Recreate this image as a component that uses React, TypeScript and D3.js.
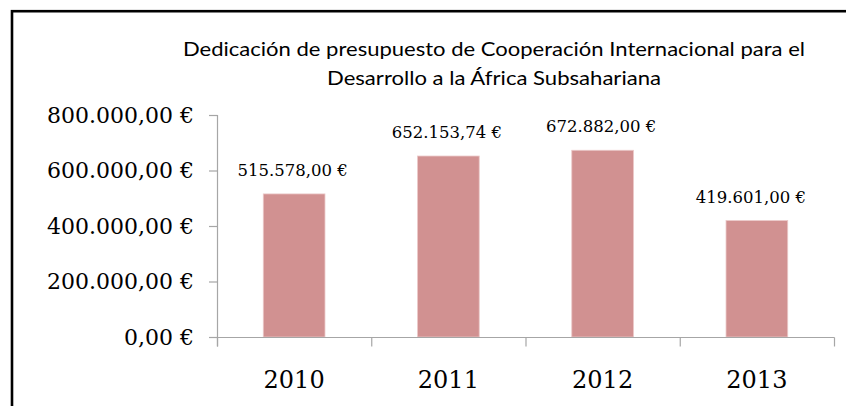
import React from "react";
import * as d3 from "d3";

const years = ["2010", "2011", "2012", "2013"];
const budget = [515578.0, 652153.74, 672882.0, 419601.0];
const yTicks = [0, 200000, 400000, 600000, 800000];
const titleLines = [
  "Dedicación de presupuesto de Cooperación Internacional para el",
  "Desarrollo a la África Subsahariana",
];

const W = 846;
const H = 406;

const fmt = (v: number) => {
  const [intPart, dec] = v.toFixed(2).split(".");
  const withDots = intPart.replace(/\B(?=(\d{3})+(?!\d))/g, ".");
  return `${withDots},${dec} €`;
};

export default function App() {
  const x = d3
    .scaleBand<string>()
    .domain(years)
    .range([217, 834])
    .paddingInner(0.6)
    .paddingOuter(0.3);
  const y = d3.scaleLinear().domain([0, 800000]).range([337, 115]);
  const step = x.step();
  const boundaries = d3.range(years.length + 1).map((i) => 217 + i * step);
  const serif = "DejaVu Serif";

  return (
    <svg
      width={W}
      height={H}
      style={{ position: "absolute", left: 0, top: 0, background: "#fff" }}
    >
      <rect x={0} y={0} width={W} height={H} fill="#fff" />
      {/* chart border */}
      <rect
        x={12}
        y={11.2}
        width={W + 20}
        height={H + 20}
        fill="none"
        stroke="#000"
        strokeWidth={2.6}
      />
      {/* title */}
      {titleLines.map((t, i) => (
        <text
          key={i}
          x={494}
          y={56 + i * 29}
          textAnchor="middle"
          fontFamily="Lato, 'Open Sans', sans-serif"
          fontSize={20}
          fill="#000"
          textLength={i === 0 ? 622 : 334}
          lengthAdjust="spacingAndGlyphs"
        >
          {t}
        </text>
      ))}
      {/* bars */}
      {budget.map((v, i) => (
        <rect
          key={years[i]}
          x={x(years[i])!}
          y={y(v)}
          width={x.bandwidth()}
          height={y(0) - y(v)}
          fill="#D19191"
          stroke="#EBC8C8"
          strokeWidth={0.8}
        />
      ))}
      {/* value labels */}
      {budget.map((v, i) => (
        <text
          key={"l" + years[i]}
          x={x(years[i])! + x.bandwidth() / 2 - (i === 3 ? 6 : 1.5)}
          y={y(v) - 18}
          textAnchor="middle"
          fontFamily={serif}
          fontSize={16.5}
          fill="#000"
        >
          {fmt(v)}
        </text>
      ))}
      {/* y axis */}
      <line x1={217.5} x2={217.5} y1={y(800000)} y2={346.5} stroke="#A6A6A6" strokeWidth={1.2} />
      {yTicks.map((t) => (
        <g key={t}>
          <line x1={209} x2={217.5} y1={y(t) + 0.5} y2={y(t) + 0.5} stroke="#A6A6A6" strokeWidth={1.2} />
          <text
            x={194}
            y={y(t)}
            dy="0.36em"
            textAnchor="end"
            fontFamily={serif}
            fontSize={22}
            fill="#000"
          >
            {fmt(t)}
          </text>
        </g>
      ))}
      {/* x axis */}
      <line x1={209} x2={834.5} y1={337.5} y2={337.5} stroke="#A6A6A6" strokeWidth={1.2} />
      {boundaries.map((b, i) => (
        <line key={"b" + i} x1={b + 0.5} x2={b + 0.5} y1={337.5} y2={346.5} stroke="#A6A6A6" strokeWidth={1.2} />
      ))}
      {years.map((yr) => (
        <text
          key={"x" + yr}
          x={x(yr)! + x.bandwidth() / 2}
          y={388}
          textAnchor="middle"
          fontFamily={serif}
          fontSize={24}
          fill="#000"
        >
          {yr}
        </text>
      ))}
    </svg>
  );
}
